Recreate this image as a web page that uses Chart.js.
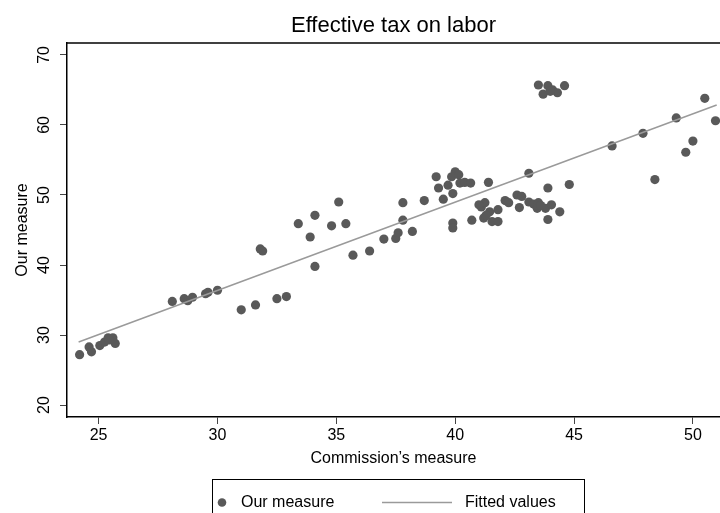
<!DOCTYPE html>
<html>
<head>
<meta charset="utf-8">
<script src="https://cdn.jsdelivr.net/npm/chart.js@4.4.1/dist/chart.umd.min.js"></script>
<style>
html, body { margin: 0; padding: 0; background: #fff; }
</style>
</head>
<body>
<canvas id="myChart" width="720" height="513"></canvas>
<script>
// values
var ourX = [
    24.2, 24.6, 24.7, 25.05, 25.25, 25.4, 25.6, 25.7, 25.45,
    28.1, 28.6, 28.75, 28.95, 29.5, 29.6, 30.0,
    31.0, 31.6, 32.5, 32.9,
    31.8, 31.9, 33.4, 34.1, 33.9, 34.1, 34.8, 35.1, 35.4, 35.7,
    36.4, 37.0, 37.5, 37.6, 37.8, 37.8, 38.2, 38.7,
    39.2, 39.3, 39.5, 39.7, 39.9, 39.9, 39.9, 40.0, 39.85, 40.15,
    40.2, 40.4, 40.65, 40.7,
    41.4, 41.1, 41.25, 41.2, 41.45, 41.55, 41.8, 41.8, 41.0, 41.3,
    42.1, 42.25, 42.6, 42.8, 42.7, 43.1, 43.1, 43.3, 43.5, 43.45,
    43.8, 43.9, 44.05, 43.9, 44.4, 44.8, 43.6,
    43.5, 43.9, 43.7, 44.1, 44.3, 44.6, 44.0,
    46.6, 47.9, 48.4, 49.3, 49.7, 50.0, 50.5, 50.95
]
var ourY = [
    27.2, 28.3, 27.6, 28.5, 29.0, 29.6, 29.6, 28.8, 29.3,
    34.8, 35.2, 34.9, 35.4, 35.9, 36.1, 36.4,
    33.6, 34.3, 35.2, 35.5,
    42.3, 42.0, 45.9, 47.1, 44.0, 39.8, 45.6, 49.0, 45.9, 41.4,
    42.0, 43.7, 43.8, 44.6, 48.9, 46.4, 44.8, 49.2,
    52.6, 51.0, 49.4, 51.4, 50.2, 46.0, 45.3, 53.3, 52.6, 52.9,
    51.7, 51.8, 51.7, 46.4,
    51.8, 48.3, 48.9, 46.7, 47.6, 46.2, 47.9, 46.2, 48.6, 47.1,
    49.2, 48.9, 50.0, 49.8, 48.2, 53.1, 49.0, 48.7, 48.9, 48.1,
    48.1, 51.0, 48.6, 46.5, 47.6, 51.5, 48.5,
    65.7, 65.6, 64.4, 65.0, 64.6, 65.6, 64.8,
    57.0, 58.8, 52.2, 61.0, 56.1, 57.7, 63.8, 60.6
]
// fitted line end points
var fitX = [24.16, 51.0]
var fitY = [29.0, 62.85]

var xTicks = [25, 30, 35, 40, 45, 50]
var yTicks = [20, 30, 40, 50, 60, 70]

var font = '"Liberation Sans", Arial, sans-serif';

function pairs(xs, ys){
    return xs.map(function(x, i){ return {x: x, y: ys[i]}; });
}

//draws the rotated y labels, the top frame line and the boxed legend
var extras = {
    id: 'extras',
    afterDraw: function(chart){
        var ctx = chart.ctx, a = chart.chartArea, ys = chart.scales.y;
        ctx.save();
        ctx.strokeStyle = '#000';
        ctx.lineWidth = 1.5;
        ctx.beginPath();
        ctx.moveTo(a.left, a.top);
        ctx.lineTo(a.right, a.top);
        ctx.stroke();

        ctx.fillStyle = '#000';
        ctx.font = '16px ' + font;
        ctx.textAlign = 'center';
        ctx.textBaseline = 'middle';
        yTicks.forEach(function(v){
            ctx.save();
            ctx.translate(45, ys.getPixelForValue(v));
            ctx.rotate(-Math.PI / 2);
            ctx.fillText(String(v), 0, 0);
            ctx.restore();
        });

        // legend
        ctx.lineWidth = 1;
        ctx.strokeStyle = '#000';
        ctx.strokeRect(212.5, 479.5, 372, 50);
        ctx.fillStyle = '#595959';
        ctx.beginPath();
        ctx.arc(222, 502.5, 4.3, 0, Math.PI * 2);
        ctx.fill();
        ctx.strokeStyle = '#9a9a9a';
        ctx.lineWidth = 1.5;
        ctx.beginPath();
        ctx.moveTo(382, 502.5);
        ctx.lineTo(452, 502.5);
        ctx.stroke();
        ctx.fillStyle = '#000';
        ctx.textAlign = 'left';
        ctx.fillText('Our measure', 241, 503);
        ctx.fillText('Fitted values', 465, 503);
        ctx.restore();
    }
};

var ctx = document.getElementById('myChart').getContext('2d');
var chart = new Chart(ctx, {
    type: 'scatter',
    data: {
        datasets: [{
            type: 'line',
            label: 'Fitted values',
            data: pairs(fitX, fitY),
            borderColor: '#9a9a9a',
            borderWidth: 1.5,
            pointRadius: 0,
            fill: false,
            order: 0
        },
        {
            type: 'scatter',
            label: 'Our measure',
            data: pairs(ourX, ourY),
            backgroundColor: '#595959',
            borderColor: '#595959',
            borderWidth: 0,
            pointRadius: 4.6,
            order: 1
        }]
    },
    options: {
        responsive: false,
        animation: false,
        layout: {autoPadding: false, padding: {left: 0, right: 0, top: 0, bottom: 43}},
        plugins: {
            legend: {display: false},
            tooltip: {enabled: false},
            title: {
                display: true,
                fullSize: false,
                text: 'Effective tax on labor',
                color: '#000',
                font: {family: font, size: 22, weight: 'normal'},
                padding: {top: 13, bottom: 3.6}
            }
        },
        scales: {
            x: {
                type: 'linear',
                min: 23.67,
                max: 51.14,
                afterBuildTicks: function(s){ s.ticks = xTicks.map(function(v){ return {value: v}; }); },
                afterFit: function(s){ s.height = 53; s.paddingLeft = 0; s.paddingRight = 0; },
                grid: {drawOnChartArea: false, drawTicks: true, tickLength: 7, color: '#444'},
                border: {display: true, color: '#000', width: 1.5},
                ticks: {color: '#000', font: {family: font, size: 16}, padding: 2, maxRotation: 0, autoSkip: false},
                title: {display: true, text: 'Commission’s measure', color: '#000',
                        font: {family: font, size: 16}, padding: {top: 0, bottom: 2}}
            },
            y: {
                type: 'linear',
                min: 18.3,
                max: 71.7,
                afterBuildTicks: function(s){ s.ticks = yTicks.map(function(v){ return {value: v}; }); },
                afterFit: function(s){ s.width = 67; s.paddingTop = 0; s.paddingBottom = 0; },
                grid: {drawOnChartArea: false, drawTicks: true, tickLength: 7, color: '#444'},
                border: {display: true, color: '#000', width: 1.5},
                ticks: {display: false},
                title: {display: true, text: 'Our measure', color: '#000',
                        font: {family: font, size: 16}, padding: {top: 13, bottom: 0}}
            }
        }
    },
    plugins: [extras]
});
</script>
</body>
</html>
